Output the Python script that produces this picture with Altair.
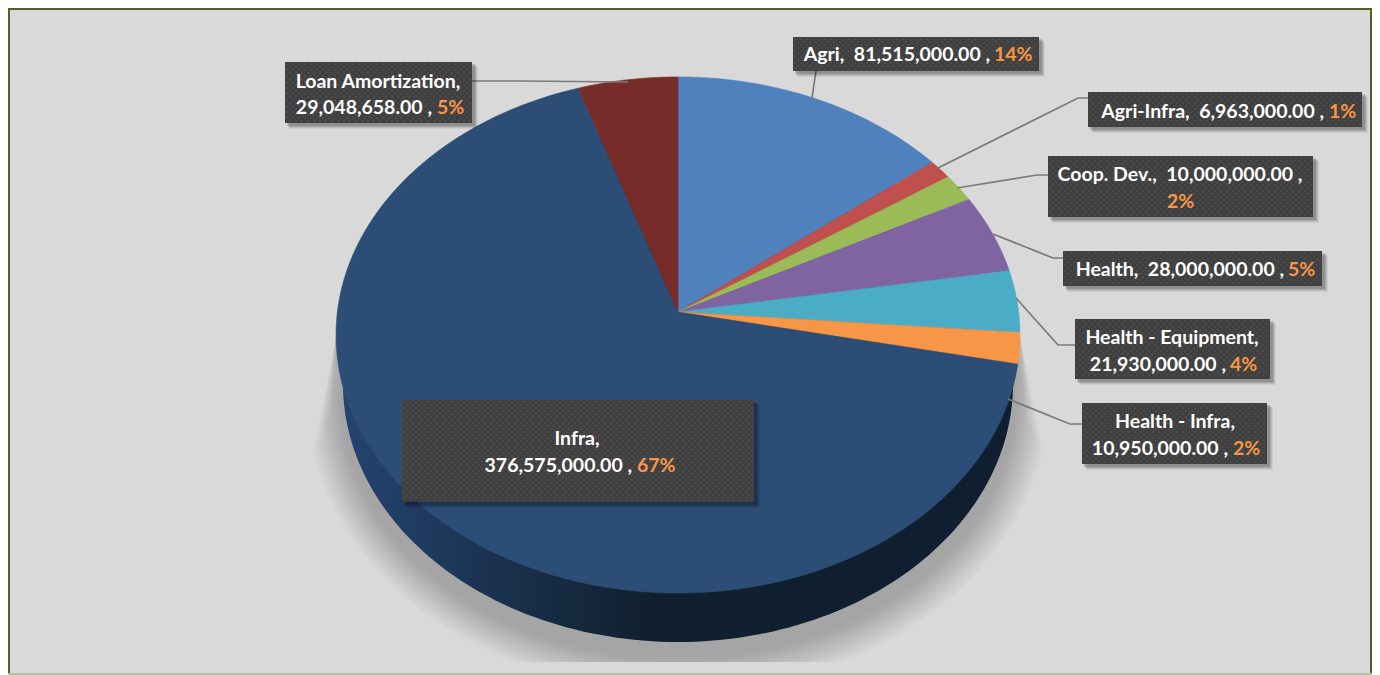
import math
import altair as alt

# ---- chart values -------------------------------------------------------
categories = ["Agri", "Agri-Infra", "Coop. Dev.", "Health", "Health - Equipment",
              "Health - Infra", "Infra", "Loan Amortization"]
amounts = [81515000, 6963000, 10000000, 28000000, 21930000, 10950000, 376575000, 29048658]
slice_colors = ["#4f81bd", "#c0504d", "#9bbb59", "#8064a2", "#4bacc6", "#f79646", "#2c4d75", "#772c2a"]

# ---- label text (white line(s), orange percentage) -----------------------
NB = "\u00a0"
label_white = [
    (f"Agri,{NB} 81,515,000.00 ,", 990, 55, "right"),
    (f"Agri-Infra,{NB} 6,963,000.00 ,", 1324, 112, "right"),
    (f"Coop. Dev.,{NB} 10,000,000.00 ,", 1180, 175, "center"),
    (f"Health,{NB} 28,000,000.00 ,", 1284, 270, "right"),
    ("Health - Equipment,", 1172, 338, "center"),
    ("21,930,000.00 ,", 1226, 365, "right"),
    ("Health - Infra,", 1175, 422, "center"),
    ("10,950,000.00 ,", 1228, 449, "right"),
    ("Infra,", 577, 439, "center"),
    ("376,575,000.00 ,", 632, 466, "right"),
    ("Loan Amortization,", 378, 82, "center"),
    ("29,048,658.00 ,", 432, 108, "right"),
]
label_pct = [
    ("14%", 994, 55), ("1%", 1329, 112), ("2%", 1167, 202), ("5%", 1288, 270),
    ("4%", 1230, 365), ("2%", 1233, 449), ("67%", 637, 466), ("5%", 437, 108),
]
# ---- layout --------------------------------------------------------------
boxes = [(793, 1039, 37, 71), (1088, 1362, 92, 127), (1048, 1313, 156, 217), (1063, 1322, 251, 286),
         (1075, 1270, 319, 379), (1082, 1267, 403, 464), (402, 754, 400, 502), (285, 472, 62, 123)]
leaders = [
    [(816, 71), (812, 98)],
    [(1088, 98), (1078, 98), (938, 168)],
    [(1048, 175), (1037, 175), (957, 188)],
    [(1063, 258), (1053, 258), (993, 234)],
    [(1075, 345), (1058, 345), (1016, 298)],
    [(1082, 424), (1070, 424), (1008, 399)],
    [(472, 81), (520, 81), (628, 82)],
]

W, H = 1364, 667
CX, CY, P, A, B = 678.0, 312.0, 0.0891, 256.0, 340.6
FONT = "Lato"
FS = 19.5

xs = alt.Scale(domain=[8, 1372], range=[0, W])
ys = alt.Scale(domain=[8, 675], range=[0, H])


def feat(points, **props):
    ring = [[round(x, 2), round(y, 2)] for x, y in points]
    ring.append(ring[0])
    return {"type": "Feature", "geometry": {"type": "Polygon", "coordinates": [ring]}, "properties": props}


def rim(frac):
    a = 2 * math.pi * frac
    u, v = math.sin(a), math.cos(a)
    d = 1 + P * v
    return CX + B * u / d, CY - A * v / d


def ellipse(cx, cy, a, b, n=240):
    return [(cx + a * math.cos(2 * math.pi * i / n), cy + b * math.sin(2 * math.pi * i / n)) for i in range(n)]


def geo(features, **kw):
    return alt.Chart(alt.Data(values=features)).mark_geoshape(**kw).project(type="identity", scale=1, translate=[-8, -8])


total = sum(amounts)
slices = []
acc = 0.0
for name, val, col in zip(categories, amounts, slice_colors):
    f0, f1 = acc / total, (acc + val) / total
    acc += val
    n = max(3, int((f1 - f0) * 360))
    pts = [(CX, CY)] + [rim(f0 + (f1 - f0) * i / n) for i in range(n + 1)]
    slices.append(feat(pts, name=name, color=col))

# soft floor shadow: stacked translucent outlines
shadow_layers = []
N = 18
for k in range(N):
    d = 36.0 * (N - k) / N
    pts_r, pts_l = [], []
    y = 335.0
    cy = 399.0
    a, b = 335 + d, 258 + d
    while y <= 662:
        t = 1 - ((y - cy) / b) ** 2
        if t <= 0:
            break
        hw = min(a * math.sqrt(t), 342 + (y - 335) / 135 * d * 0.75)
        pts_r.append((CX + hw, y))
        pts_l.append((CX - hw, y))
        y += 1
    shadow_layers.append(feat(pts_r + pts_l[::-1]))

shadow = geo(shadow_layers, fill="#000000", fillOpacity=0.0135, strokeOpacity=0)

wall = geo([feat(ellipse(CX, 384, 335, 258))],
           fill=alt.LinearGradient(gradient="linear", x1=0, x2=1, y1=0, y2=0,
                                   stops=[alt.GradientStop(offset=0, color="#244470"),
                                          alt.GradientStop(offset=0.2, color="#1b3453"),
                                          alt.GradientStop(offset=0.45, color="#11202f"),
                                          alt.GradientStop(offset=1, color="#0f1f30")]),
           strokeOpacity=0)

top = geo(slices, strokeWidth=0.6).encode(
    fill=alt.Fill("properties.color:N", scale=None),
    stroke=alt.Stroke("properties.color:N", scale=None),
)

# frame
panel_rows = [
    {"x": 8, "x2": 1372, "y": 8, "y2": 673, "c": "#4f6228"},
    {"x": 10, "x2": 1370, "y": 10, "y2": 673, "c": "#d9d9d9"},
    {"x": 8, "x2": 1372, "y": 673, "y2": 675, "c": "#b9bca8"},
]


def rects(rows, **kw):
    return alt.Chart(alt.Data(values=rows)).mark_rect(**kw).encode(
        x=alt.X("x:Q", scale=xs, axis=None),
        x2="x2:Q",
        y=alt.Y("y:Q", scale=ys, axis=None),
        y2="y2:Q",
    )


panel = rects(panel_rows).encode(fill=alt.Fill("c:N", scale=None))

line_rows = []
for i, path in enumerate(leaders):
    for j, (x, y) in enumerate(path):
        line_rows.append({"x": x, "y": y, "id": i, "o": j})
lines = alt.Chart(alt.Data(values=line_rows)).mark_line(color="#7a7a7a", strokeWidth=1.7).encode(
    x=alt.X("x:Q", scale=xs, axis=None),
    y=alt.Y("y:Q", scale=ys, axis=None),
    detail="id:N",
    order="o:Q",
)

box_shadows = []
for off, op in [(6, 0.06), (5, 0.08), (4, 0.1), (3, 0.14)]:
    rows = [{"x": b[0] + off - 1, "x2": b[1] + off, "y": b[2] + off - 1, "y2": b[3] + off} for b in boxes]
    box_shadows.append(rects(rows, color="#000000", opacity=op))

box_rows = [{"x": b[0], "x2": b[1], "y": b[2], "y2": b[3]} for b in boxes]
box_layer = rects(box_rows, color="#404040")

dots = []
for x0, x1, y0, y1 in boxes:
    r = 0
    y = y0 + 2
    while y < y1 - 1:
        x = x0 + 2 + (r % 2) * 3
        while x < x1 - 1:
            dots.append({"x": x, "y": y})
            x += 6
        y += 3
        r += 1
dot_layer = alt.Chart(alt.Data(values=dots)).mark_circle(size=2.2, color="#6a6a6a", opacity=0.7).encode(
    x=alt.X("x:Q", scale=xs, axis=None),
    y=alt.Y("y:Q", scale=ys, axis=None),
)

text_layers = []
for align in ("left", "center", "right"):
    rows = [{"t": t, "x": x, "y": y} for t, x, y, al in label_white if al == align]
    if rows:
        text_layers.append(
            alt.Chart(alt.Data(values=rows)).mark_text(
                font=FONT, fontWeight="bold", fontSize=FS, color="#ffffff", align=align, baseline="middle"
            ).encode(x=alt.X("x:Q", scale=xs, axis=None), y=alt.Y("y:Q", scale=ys, axis=None), text="t:N")
        )
pct_rows = [{"t": t, "x": x, "y": y} for t, x, y in label_pct]
pct = alt.Chart(alt.Data(values=pct_rows)).mark_text(
    font=FONT, fontWeight="bold", fontSize=FS, color="#f79646", align="left", baseline="middle"
).encode(x=alt.X("x:Q", scale=xs, axis=None), y=alt.Y("y:Q", scale=ys, axis=None), text="t:N")

chart = alt.layer(
    panel, shadow, wall, top, lines, *box_shadows, box_layer, dot_layer, *text_layers, pct
).properties(
    width=W, height=H, background="#ffffff",
    autosize=alt.AutoSizeParams(type="none"), padding=0,
).configure_view(stroke=None)

chart.save("out.html", embed_options={"renderer": "svg", "actions": False})
